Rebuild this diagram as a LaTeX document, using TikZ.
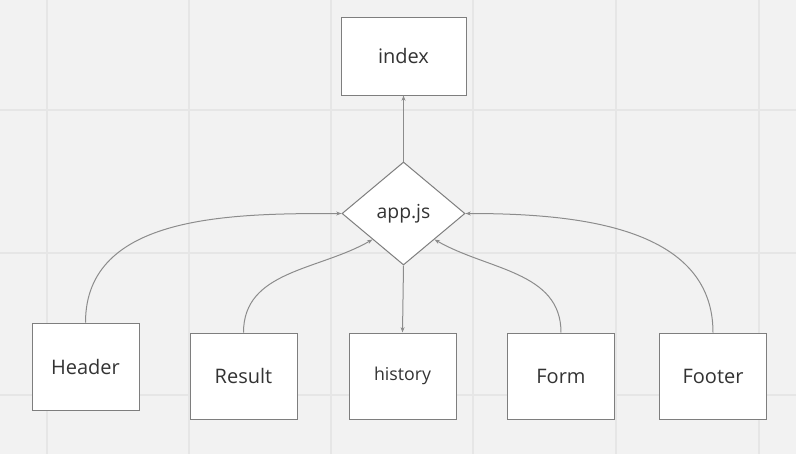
\documentclass[tikz,border=0pt]{standalone}
\usepackage{fontspec}
\setmainfont{Open Sans}
\usetikzlibrary{shapes.geometric,arrows.meta}

\definecolor{bggray}{HTML}{F2F2F2}
\definecolor{gridgray}{HTML}{E6E6E6}
\definecolor{linegray}{HTML}{8C8C8C}
\definecolor{textgray}{HTML}{333333}

\tikzset{every picture/.style={line width=0.75pt}}
\tikzset{
  comp/.style={draw=linegray!90!black, fill=white, text=textgray, font=\fontsize{15}{18}\selectfont,
    minimum width=80.25pt, minimum height=64.5pt, inner sep=0pt},
  hub/.style={diamond, draw=linegray!90!black, fill=white, text=textgray, font=\fontsize{14.5}{17}\selectfont,
    minimum width=92.25pt, minimum height=77.25pt, inner sep=0pt},
  link/.style={draw=linegray, -{Stealth[length=4pt,width=3pt]}}
}

\begin{document}
\begin{tikzpicture}[x=0.75pt,y=0.75pt,yscale=-1,xscale=1]

        \fill[bggray] (0,0) rectangle (796,454);
        \useasboundingbox (0,0) rectangle (796,454);
        \foreach \gx in {47,189,331,473,616,759}
          \draw[gridgray, line width=1.5pt] (\gx,0) -- (\gx,454);
        \foreach \gy in {110,253,395}
          \draw[gridgray, line width=1.5pt] (0,\gy) -- (796,\gy);

        \node[comp, minimum width=93.75pt, minimum height=58.5pt] (index) at (403.5,56){index};
        \node[hub] (app) at (403.5,213.5){app.js};

        \node[comp, minimum height=65.25pt] (header) at (85.5,366.5){Header};
        \node[comp] (result) at (243.5,376){Result};
        \node[comp, font=\fontsize{13.3}{16}\selectfont] (history) at (402.5,376){history};
        \node[comp] (form) at (561,376){Form};
        \node[comp] (footer) at (713,376){Footer};

        \draw[link] (app.north) -- (index.south);
        \draw[link] (app.south) -- (history.north);

        % y axis is flipped, so -90 points up
        \draw[link] (header.north) to[out=-90,in=180] (app.west);
        \draw[link] (result.north) to[out=-90,in=150] (app.south west);
        \draw[link] (form.north) to[out=-90,in=30] (app.south east);
        \draw[link] (footer.north) to[out=-90,in=0] (app.east);

        \end{tikzpicture}
\end{document}
